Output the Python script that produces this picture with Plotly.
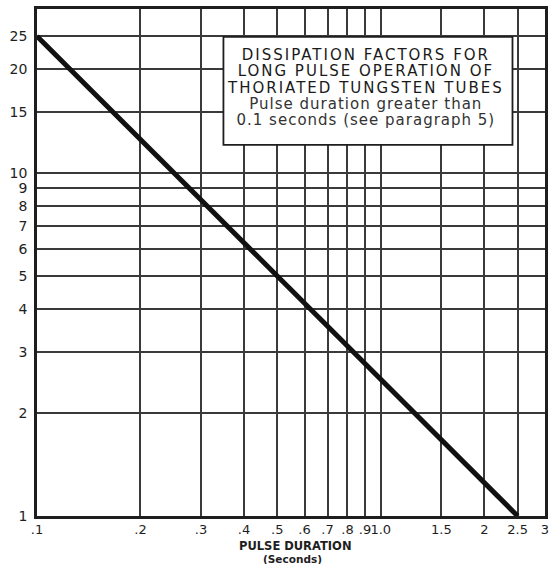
import math
import plotly.graph_objects as go

# data
pulse_duration = [0.1, 2.5]
dissipation_factor = [25, 1]

x_ticks = [0.1, 0.2, 0.3, 0.4, 0.5, 0.6, 0.7, 0.8, 0.9, 1.0, 1.5, 2, 2.5, 3]
x_tick_labels = [".1", ".2", ".3", ".4", ".5", ".6", ".7", ".8", ".9", "1.0", "1.5", "2", "2.5", "3"]
y_ticks = [1, 2, 3, 4, 5, 6, 7, 8, 9, 10, 15, 20, 25]
y_tick_labels = [str(v) for v in y_ticks]

title_lines = ["DISSIPATION FACTORS FOR", "LONG PULSE OPERATION OF", "THORIATED TUNGSTEN TUBES"]
sub_lines = ["Pulse duration greater than", "0.1 seconds (see paragraph 5)"]

ink = "#1e1e1e"
font_family = "DejaVu Sans, Open Sans, sans-serif"

fig = go.Figure()
fig.add_trace(go.Scatter(x=pulse_duration, y=dissipation_factor, mode="lines",
                         line=dict(color="#111111", width=5), showlegend=False,
                         hoverinfo="skip"))

fig.update_xaxes(type="log", range=[math.log10(0.1), math.log10(3) + 0.0005],
                 tickvals=x_ticks, ticktext=x_tick_labels, tickangle=0,
                 showgrid=True, gridcolor="#3a3a3a", gridwidth=1.5,
                 showline=True, linecolor=ink, linewidth=2.5, mirror=True,
                 ticks="", zeroline=False, ticklabelstandoff=0,
                 tickfont=dict(family=font_family, size=13, color=ink))
fig.update_yaxes(type="log", range=[0, math.log10(30)],
                 tickvals=y_ticks, ticktext=y_tick_labels,
                 showgrid=True, gridcolor="#3a3a3a", gridwidth=1.5,
                 showline=True, linecolor=ink, linewidth=2.5, mirror=True,
                 ticks="", zeroline=False, ticklabelstandoff=4,
                 tickfont=dict(family=font_family, size=14, color=ink))

# legend-like box
fig.add_shape(type="rect", xref="paper", yref="paper",
              x0=0.367, x1=0.936, y0=0.732, y1=0.945,
              fillcolor="white", line=dict(color=ink, width=1.8), layer="above")

cap_style = "font-size:15px;letter-spacing:2px"
sub_style = "font-size:15px;letter-spacing:1px;fill:#333333"
box_text = "<br>".join(
    ["<span style='%s'>%s</span>" % (cap_style, t) for t in title_lines]
    + ["<span style='%s'>%s</span>" % (sub_style, t) for t in sub_lines]
)
fig.add_annotation(text=box_text, xref="paper", yref="paper", x=0.646, y=0.846,
                   showarrow=False, xanchor="center", yanchor="middle", align="center",
                   font=dict(family=font_family, size=12.5, color="#1a1a1a"))

# axis title
fig.add_annotation(text="<b>PULSE DURATION</b>", xref="paper", yref="paper",
                   x=0.508, y=-0.059, showarrow=False, xanchor="center", yanchor="middle",
                   font=dict(family=font_family, size=11.5, color=ink))
fig.add_annotation(text="<b>(Seconds)</b>", xref="paper", yref="paper",
                   x=0.502, y=-0.085, showarrow=False, xanchor="center", yanchor="middle",
                   font=dict(family=font_family, size=10.5, color=ink))

fig.update_layout(width=553, height=564,
                  margin=dict(l=37, r=4, t=9, b=48),
                  paper_bgcolor="white", plot_bgcolor="white",
                  showlegend=False)

fig.write_html("out.html")
